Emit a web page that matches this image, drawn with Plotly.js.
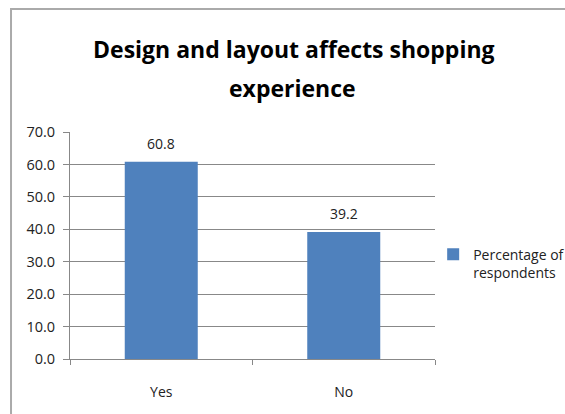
<!DOCTYPE html>
<html><head><meta charset="utf-8">
<script src="https://cdn.plot.ly/plotly-3.0.1.min.js"></script>
<style>html,body{margin:0;padding:0;background:#fff;}#chart{width:565px;height:414px;}</style>
</head><body><div id="chart"></div>
<script>
const categories = ["Yes", "No"];
const percentages = [60.8, 39.2];
const seriesName = "Percentage of<br>respondents";
const titleLine1 = "Design and layout affects shopping";
const titleLine2 = "experience";
const yTickVals = [0, 10, 20, 30, 40, 50, 60, 70];

const font = "Open Sans, Liberation Sans, sans-serif";
const trace = {
  type: "bar", x: categories, y: percentages, name: seriesName,
  marker: {color: "#4F81BD"}, showlegend: true, hoverinfo: "none"
};
const annotations = categories.map((c, i) => ({
  x: c, y: percentages[i], xref: "x", yref: "y", text: percentages[i].toFixed(1),
  showarrow: false, yanchor: "bottom", yshift: 7, font: {family: font, size: 14, color: "#222"}
}));
annotations.push({
  text: titleLine2, xref: "paper", yref: "paper", x: 0.61, y: 1.194, xanchor: "center", yanchor: "middle",
  showarrow: false, font: {family: font, size: 23, color: "#000", weight: "bold"}
});
const layout = {
  width: 565, height: 414,
  margin: {l: 70, r: 130, t: 132, b: 55, autoexpand: false},
  paper_bgcolor: "#fff", plot_bgcolor: "#fff",
  title: {text: titleLine1, x: 0.52, xanchor: "center", y: 0.88, yanchor: "middle",
    font: {family: font, size: 23, color: "#000", weight: "bold"}},
  bargap: 0.6,
  xaxis: {showline: true, linecolor: "#888", linewidth: 1, ticks: "outside", tickson: "boundaries",
    ticklen: 5, tickcolor: "#888", showgrid: false, tickfont: {family: font, size: 14, color: "#222"},
    ticklabelstandoff: 20, fixedrange: true},
  yaxis: {range: [0, 70], tickvals: yTickVals, tickformat: ".1f", showline: true, linecolor: "#888",
    linewidth: 1, ticks: "outside", ticklen: 6, tickcolor: "#888", showgrid: true, gridcolor: "#888",
    gridwidth: 1, zeroline: false, tickfont: {family: font, size: 14.5, color: "#222"},
    ticklabelstandoff: 5, fixedrange: true},
  legend: {x: 0.995, xanchor: "left", y: 0.42, yanchor: "middle", valign: "top",
    font: {family: font, size: 14, color: "#222"}, bgcolor: "rgba(0,0,0,0)"},
  annotations: annotations,
  shapes: [{type: "path", xref: "paper", yref: "paper",
    path: "M -0.1616,-0.3 L -0.1616,1.542 L 1.4,1.542", line: {color: "#aaa", width: 2}}]
};
Plotly.newPlot("chart", [trace], layout, {staticPlot: true});
</script></body></html>
